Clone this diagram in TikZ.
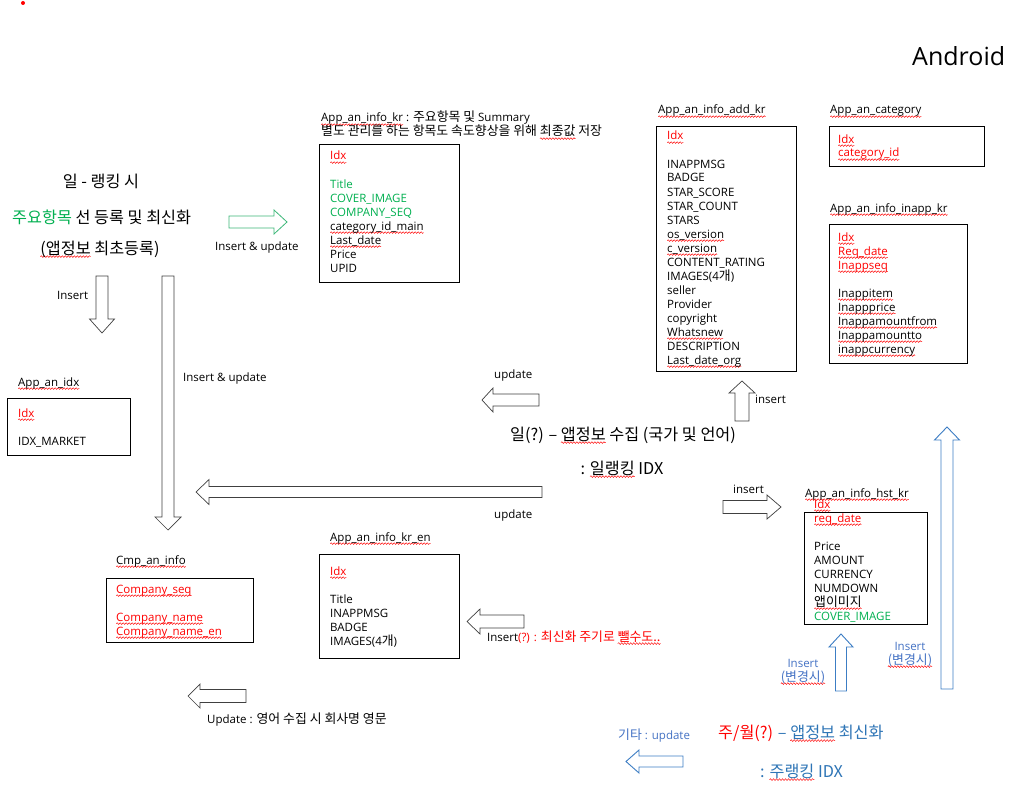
\documentclass[tikz,border=0pt]{standalone}
\usepackage{fontspec}
\setmainfont{Open Sans}
\newfontfamily\krf[Scale=1.12]{Noto Sans CJK KR}
\usetikzlibrary{decorations.pathmorphing}
\newsavebox\sqbox
\newcommand\sq[1]{\sbox\sqbox{#1}\tikz[baseline=0pt]\draw[overlay, red, line width=0.45pt, decorate, decoration={snake, amplitude=0.9pt, segment length=3pt}] (0pt,-2.6pt) -- (\wd\sqbox,-2.6pt);\usebox\sqbox}
\newcommand\kr[1]{{\krf #1}}
\definecolor{grn}{HTML}{00B050}
\definecolor{agrn}{HTML}{3CB878}
\definecolor{blu}{HTML}{2E75B6}
\definecolor{ablu}{HTML}{3C7DC4}
\definecolor{tblu}{HTML}{4472C4}
\definecolor{gry}{HTML}{404040}
\newcommand\harr[7]{\draw[#1] (#2,{#5-#6}) -- (#3,{#5-#6}) -- (#3,{#5-#7}) -- (#4,#5) -- (#3,{#5+#7}) -- (#3,{#5+#6}) -- (#2,{#5+#6}) -- cycle;}
\newcommand\varr[7]{\draw[#1] ({#5-#6},#2) -- ({#5-#6},#3) -- ({#5-#7},#3) -- (#5,#4) -- ({#5+#7},#3) -- ({#5+#6},#3) -- ({#5+#6},#2) -- cycle;}
\newcommand\tlines[4]{\foreach \itm [count=\i] in {#4} \node[cell] (#1-\i) at (#2,{#3+(\i-1)*14}) {\itm};}
\tikzset{
  cell/.style={inner sep=0pt, anchor=base west, font=\fontsize{11.5}{14}\selectfont},
  big/.style={inner sep=0pt, font=\fontsize{14.5}{17}\selectfont},
  tbox/.style={draw=black, line width=0.8pt, inner sep=0pt, anchor=north west},
  garr/.style={draw=gry, line width=0.7pt, fill=white},
  greenarr/.style={draw=agrn, line width=0.8pt, fill=white},
  bluearr/.style={draw=ablu, line width=0.9pt, fill=white}
}
\begin{document}
\begin{tikzpicture}[x=1pt, y=-1pt]
\fill[white] (0,0) rectangle (1012,789);
\useasboundingbox (0,0) rectangle (1012,789);
\fill[red] (23,3) circle (2pt);
\node[inner sep=0pt, anchor=base west, font=\fontsize{25}{29}\selectfont] (android) at (912,66) {Android};

% boxes
\node[tbox, minimum width=140pt, minimum height=138pt] (krbox) at (319,144) {};
\node[tbox, minimum width=123pt, minimum height=57pt] (idxbox) at (7,398) {};
\node[tbox, minimum width=140pt, minimum height=245pt] (addbox) at (656,126) {};
\node[tbox, minimum width=155pt, minimum height=40pt] (catbox) at (829,126) {};
\node[tbox, minimum width=138pt, minimum height=139pt] (inappbox) at (829,224) {};
\node[tbox, minimum width=123pt, minimum height=112pt] (hstbox) at (804,512) {};
\node[tbox, minimum width=140pt, minimum height=104pt] (enbox) at (319,554) {};
\node[tbox, minimum width=147pt, minimum height=64pt] (cmpbox) at (106,578) {};

% App_an_info_kr
\node[cell] (krt1) at (321,122) {\sq{App\_an\_info\_kr} : \kr{주요항목 및} Summary};
\node[cell] (krt2) at (321,136) {\kr{별도 관리를 하는 항목도 속도향상을 위해 \sq{최종값} 저장}};
\tlines{kr}{330}{160}{{\color{red}\sq{Idx}},{},{\color{grn}Title},{\color{grn}COVER\_IMAGE},{\color{grn}COMPANY\_SEQ},{\sq{category\_id\_main}},{\sq{Last\_date}},Price,UPID}

% App_an_idx
\node[cell] (idxt) at (18,386) {\sq{App\_an\_idx}};
\tlines{idx}{18}{417}{{\color{red}\sq{Idx}},{},IDX\_MARKET}

% App_an_info_add_kr
\node[cell] (addt) at (658,114) {\sq{App\_an\_info\_add\_kr}};
\tlines{add}{667}{140}{{\color{red}\sq{Idx}},{},INAPPMSG,BADGE,STAR\_SCORE,STAR\_COUNT,STARS,{\sq{os\_version}},{\sq{c\_version}},CONTENT\_RATING,{IMAGES(4\kr{개})},seller,Provider,copyright,{\sq{Whatsnew}},DESCRIPTION,{\sq{Last\_date\_org}}}

% App_an_category
\node[cell] (catt) at (830,114) {\sq{App\_an\_category}};
\tlines{cat}{838}{143}{{\color{red}\sq{Idx}},{\color{red}\sq{category\_id}}}

% App_an_info_inapp_kr
\node[cell] (inappt) at (830,212) {\sq{App\_an\_info\_inapp\_kr}};
\tlines{inapp}{838}{241}{{\color{red}\sq{Idx}},{\color{red}\sq{Req\_date}},{\color{red}\sq{Inappseq}},{},{\sq{Inappitem}},{\sq{Inappprice}},{\sq{Inappamountfrom}},{\sq{Inappamountto}},{\sq{inappcurrency}}}

% App_an_info_hst_kr
\node[cell] (hstt) at (805,497) {\sq{App\_an\_info\_hst\_kr}};
\tlines{hst}{814}{508}{{\color{red}\sq{Idx}},{\color{red}\sq{req\_date}},{},Price,AMOUNT,CURRENCY,NUMDOWN,{\kr{\sq{앱이미지}}},{\color{grn}COVER\_IMAGE}}

% App_an_info_kr_en
\node[cell] (ent) at (330,541) {\sq{App\_an\_info\_kr\_en}};
\tlines{en}{330}{575}{{\color{red}\sq{Idx}},{},Title,INAPPMSG,BADGE,{IMAGES(4\kr{개})}}

% Cmp_an_info
\node[cell] (cmpt) at (116,564) {\sq{Cmp\_an\_info}};
\tlines{cmp}{116}{593}{{\color{red}\sq{Company\_seq}},{},{\color{red}\sq{Company\_name}},{\color{red}\sq{Company\_name\_en}}}

% left texts
\node[big, anchor=base] (l1) at (101,187) {\kr{일 - 랭킹 시}};
\node[big, anchor=base west] (l2) at (12,223) {\kr{\textcolor{grn}{주요항목} 선 등록 및 최신화}};
\node[big, anchor=base] (l3) at (100,254) {\kr{\sq{(앱정보} 최초등록)}};

% middle texts
\node[big, anchor=base] (m1) at (623,440) {\kr{일(?) – \sq{앱정보} 수집 (국가 및 언어)}};
\node[big, anchor=base] (m2) at (622,474) {\kr{: \sq{일랭킹} IDX}};

% bottom right texts
\node[big, anchor=base west] (b1) at (718,738) {\kr{\textcolor{red}{주/월(?)} \textcolor{blu}{– \sq{앱정보} 최신화}}};
\node[big, anchor=base west, text=blu] (b2) at (760,777) {\kr{: \sq{주랭킹} IDX}};
\node[cell, text=tblu] (b3) at (618,739) {\kr{기타} : update};

% arrow labels
\node[cell] (a1l) at (215,250) {Insert \& update};
\node[cell] (a2l) at (57,299) {Insert};
\node[cell] (a3l) at (183,381) {Insert \& update};
\node[cell] (a5l) at (494,378) {update};
\node[cell] (a6l) at (755,403) {insert};
\node[cell] (a7l) at (733,493) {insert};
\node[cell] (a4l) at (494,518) {update};
\node[cell] (a8l) at (487,641) {Insert\textcolor{red}{(?) : \kr{최신화 주기로 \sq{뺄수도..}}}};
\node[cell] (a9l) at (207,723) {Update : \kr{영어 수집 시 회사명 영문}};
\node[cell, anchor=base, text=tblu] (a10l) at (803,667) {Insert};
\node[cell, anchor=base, text=tblu] (a10m) at (803,681) {\kr{\sq{(변경시)}}};
\node[cell, anchor=base, text=tblu] (a11l) at (910,650) {Insert};
\node[cell, anchor=base, text=tblu] (a11m) at (910,664) {\kr{\sq{(변경시)}}};

% block arrows
\harr{greenarr}{229}{274}{287}{222}{6}{12}
\varr{garr}{276}{319}{333}{102}{6}{12.5}
\varr{garr}{276}{517}{530}{168}{6}{13}
\harr{garr}{542}{209}{196}{492}{5.5}{12.5}
\harr{garr}{539}{493}{482}{400}{6}{12}
\varr{garr}{421}{393}{381}{742}{7}{13}
\harr{garr}{723}{767}{781}{507}{6.5}{12}
\harr{garr}{524}{480}{467}{621.5}{6.5}{12.5}
\harr{garr}{246}{200}{188}{696}{6.5}{12}
\varr{bluearr}{691}{647}{634}{841}{5.5}{12}
\varr{bluearr}{689}{440}{427}{947}{6}{12.5}
\harr{bluearr}{683}{639}{626}{761.5}{5.5}{11.5}
\end{tikzpicture}
\end{document}
